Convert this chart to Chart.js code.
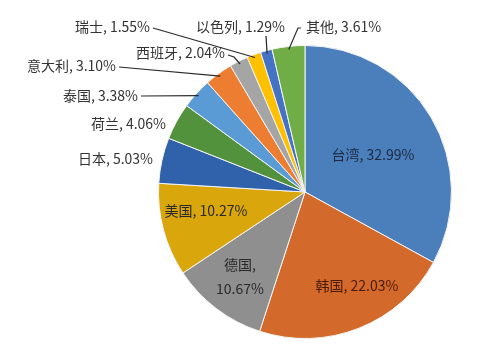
<!DOCTYPE html>
<html>
<head>
<meta charset="utf-8">
<script src="https://cdn.jsdelivr.net/npm/chart.js@4/dist/chart.umd.min.js"></script>
<style>
  html, body { margin: 0; padding: 0; background: #fff; }
  #wrap { width: 500px; height: 357px; position: relative; }
</style>
</head>
<body>
<div id="wrap"><canvas id="c" width="500" height="357"></canvas></div>
<script>
const categories = ['台湾', '韩国', '德国', '美国', '日本', '荷兰', '泰国', '意大利', '西班牙', '瑞士', '以色列', '其他'];
const shares = [32.99, 22.03, 10.67, 10.27, 5.03, 4.06, 3.38, 3.10, 2.04, 1.55, 1.29, 3.61];
const valueLabels = ['32.99%', '22.03%', '10.67%', '10.27%', '5.03%', '4.06%', '3.38%', '3.10%', '2.04%', '1.55%', '1.29%', '3.61%'];

const colors = ['#4b7fbb', '#d3692b', '#8f8f8f', '#d9a60c', '#3062ac', '#53923c', '#5b9bd5', '#ed7d31', '#a5a5a5', '#ffc000', '#4472c4', '#70ad47'];

// label layout: x,y text anchor, align, leader points, colour
const labelLayout = [
  { x: 373, y: 155, align: 'center', color: '#1e2a40' },
  { x: 357, y: 286, align: 'center', color: '#4a1b08' },
  { x: 240, y: 265, align: 'center', color: '#2a2a2a', split: true },
  { x: 206, y: 211, align: 'center', color: '#2a2a2a' },
  { x: 153, y: 159, align: 'right', color: '#333' },
  { x: 166, y: 124, align: 'right', color: '#333' },
  { x: 138, y: 96, align: 'right', color: '#333', leader: [[141, 96]] },
  { x: 116, y: 66, align: 'right', color: '#333', leader: [[119, 67]] },
  { x: 225, y: 53, align: 'right', color: '#333', leader: [[228, 55], [234, 57]] },
  { x: 150, y: 27, align: 'right', color: '#333', leader: [[153, 28]] },
  { x: 285, y: 27, align: 'right', color: '#333', leader: [[266, 36]] },
  { x: 306, y: 27, align: 'left', color: '#333', leader: [[301, 28], [298, 28]] }
];

const labelPlugin = {
  id: 'sliceLabels',
  afterDatasetsDraw(chart) {
    const ctx = chart.ctx;
    const meta = chart.getDatasetMeta(0);
    ctx.save();
    ctx.font = '14px "Noto Sans CJK SC", "Liberation Sans", sans-serif';
    ctx.textBaseline = 'middle';
    meta.data.forEach((arc, i) => {
      const L = labelLayout[i];
      const text = categories[i] + ', ' + valueLabels[i];
      ctx.fillStyle = L.color;
      if (L.leader) {
        const mid = (arc.startAngle + arc.endAngle) / 2;
        const ex = arc.x + Math.cos(mid) * (arc.outerRadius - 3);
        const ey = arc.y + Math.sin(mid) * (arc.outerRadius - 3);
        ctx.strokeStyle = '#2a2a2a';
        ctx.lineWidth = 1.2;
        ctx.beginPath();
        ctx.moveTo(L.leader[0][0], L.leader[0][1]);
        for (let k = 1; k < L.leader.length; k++) ctx.lineTo(L.leader[k][0], L.leader[k][1]);
        ctx.lineTo(ex, ey);
        ctx.stroke();
      }
      ctx.textAlign = L.align;
      if (L.split) {
        ctx.fillText(categories[i] + ',', L.x, L.y);
        ctx.fillText(valueLabels[i], L.x, L.y + 24);
      } else {
        ctx.fillText(text, L.x, L.y);
      }
    });
    ctx.restore();
  }
};

new Chart(document.getElementById('c'), {
  type: 'pie',
  data: {
    labels: categories,
    datasets: [{
      data: shares,
      backgroundColor: colors,
      borderColor: '#f4f4f4',
      borderWidth: 1
    }]
  },
  options: {
    responsive: false,
    maintainAspectRatio: false,
    animation: false,
    layout: { padding: { left: 158, right: 48, top: 45, bottom: 18 } },
    plugins: { legend: { display: false }, tooltip: { enabled: false } }
  },
  plugins: [labelPlugin]
});
</script>
</body>
</html>
